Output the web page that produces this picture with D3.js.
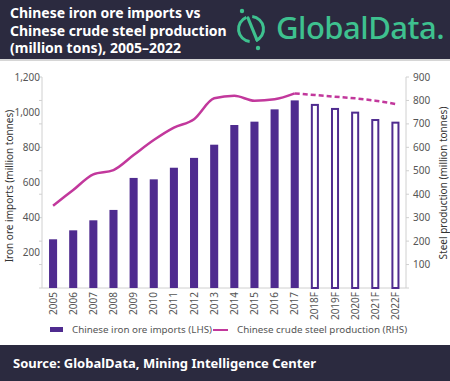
<!DOCTYPE html>
<html><head><meta charset="utf-8">
<script src="https://cdn.jsdelivr.net/npm/d3@7"></script>
<style>body{margin:0;background:#fff}svg{display:block}</style>
</head><body>
<script>
const years = ["2005","2006","2007","2008","2009","2010","2011","2012","2013","2014","2015","2016","2017","2018F","2019F","2020F","2021F","2022F"];
const ironOreImports = [277,328,385,444,626,618,684,740,815,927,946,1016,1067,1047,1024,1003,961,946];
const steelProduction = [351,418,485,503,567,631,684,720,809,820,799,805,830,823,816,809,799,785];
const forecastFlags = [0,0,0,0,0,0,0,0,0,0,0,0,0,1,1,1,1,1];
const leftTicks = [0,200,400,600,800,1000,1200];
const rightTicks = [100,200,300,400,500,600,700,800,900];

const W=450,H=381;
const svg=d3.select("body").append("svg").attr("width",W).attr("height",H);
const font="'Noto Sans', sans-serif";
const purple="#4f2b8f", magenta="#c2389c", grey="#555", axisGrey="#d0d0d0";

// header
svg.append("rect").attr("x",0).attr("y",0).attr("width",W).attr("height",59).attr("fill","#2b2a3f");
svg.append("rect").attr("x",0).attr("y",59).attr("width",W).attr("height",2).attr("fill","#d6d6d6");
const title=["Chinese iron ore imports vs","Chinese crude steel production","(million tons), 2005–2022"];
svg.append("g").selectAll("text").data(title).join("text")
  .attr("x",10).attr("y",(d,i)=>18+i*17.5).attr("fill","#fff")
  .attr("font-family",font).attr("font-weight",700).attr("font-size",14).text(d=>d);
// logo
const green="#3ec18f";
const lg=svg.append("g").attr("transform","translate(251,29)");
const arc=d3.arc().innerRadius(11).outerRadius(14);
lg.append("path").attr("d",arc({startAngle:0.1,endAngle:2.75})).attr("fill",green);
lg.append("path").attr("d",arc({startAngle:3.25,endAngle:5.9})).attr("fill",green);
lg.append("line").attr("x1",-3).attr("y1",-11).attr("x2",6).attr("y2",11).attr("stroke",green).attr("stroke-width",3.2).attr("stroke-linecap","round");
lg.append("circle").attr("cx",-9).attr("cy",-18).attr("r",2.2).attr("fill",green);
lg.append("circle").attr("cx",7).attr("cy",19).attr("r",2.2).attr("fill",green);
svg.append("text").attr("x",276).attr("y",39).attr("fill",green).attr("font-family",font)
  .attr("font-weight",500).attr("font-size",31).attr("letter-spacing",-0.5).text("GlobalData.");

// footer
svg.append("rect").attr("x",0).attr("y",345).attr("width",W).attr("height",36).attr("fill","#2b2a3f");
svg.append("text").attr("x",13).attr("y",368).attr("fill","#fff").attr("font-family",font)
  .attr("font-weight",700).attr("font-size",13).text("Source: GlobalData, Mining Intelligence Center");

// scales
const x=d3.scaleBand().domain(years).range([43,405.5]).paddingInner(0.6).paddingOuter(0.3);
const yL=d3.scaleLinear().domain([0,1200]).range([288,77]);
const yR=d3.scaleLinear().domain([0,900]).range([288,77]);

// axes
const gL=svg.append("g").attr("transform","translate(42,0)");
gL.append("line").attr("y1",yL(0)).attr("y2",yL(1200)).attr("stroke",axisGrey);
gL.selectAll(".tk").data(d3.range(0,901,100)).join("line").attr("x1",-3).attr("x2",0)
  .attr("y1",d=>yR(d)).attr("y2",d=>yR(d)).attr("stroke",axisGrey);
gL.selectAll("text").data(leftTicks.filter(d=>d>0)).join("text").attr("x",-2).attr("y",d=>yL(d)).attr("dy","0.35em")
  .attr("text-anchor","end").attr("font-family",font).attr("font-size",10).attr("fill",grey).text(d3.format(","));
const gR=svg.append("g").attr("transform","translate(406,0)");
gR.append("line").attr("y1",yR(0)).attr("y2",yR(900)).attr("stroke",axisGrey);
gR.selectAll(".tk").data(d3.range(0,901,100)).join("line").attr("x1",0).attr("x2",3)
  .attr("y1",d=>yR(d)).attr("y2",d=>yR(d)).attr("stroke",axisGrey);
gR.selectAll("text").data(rightTicks).join("text").attr("x",7).attr("y",d=>yR(d)).attr("dy","0.35em")
  .attr("font-family",font).attr("font-size",10).attr("fill",grey).text(d=>d);
svg.append("line").attr("x1",42).attr("x2",406).attr("y1",288).attr("y2",288).attr("stroke",axisGrey);

svg.append("text").attr("transform","translate(13,186) rotate(-90)").attr("text-anchor","middle")
  .attr("font-family",font).attr("font-size",10).attr("fill","#333").text("Iron ore imports (million tonnes)");
svg.append("text").attr("transform","translate(446.5,183) rotate(-90)").attr("text-anchor","middle")
  .attr("font-family",font).attr("font-size",10).attr("fill","#333").text("Steel production (million tonnes)");

// x labels
svg.append("g").selectAll("text").data(years).join("text")
  .attr("transform",d=>`translate(${x(d)+x.bandwidth()/2+3.5},292) rotate(-90)`)
  .attr("text-anchor","end").attr("font-family",font).attr("font-size",10).attr("fill",grey).text(d=>d);

// bars
const data=years.map((y,i)=>({y,v:ironOreImports[i],s:steelProduction[i],f:forecastFlags[i]}));
svg.append("g").selectAll("rect").data(data).join("rect")
  .attr("x",d=>d.f?x(d.y)+1:x(d.y)).attr("width",d=>d.f?x.bandwidth()-2:x.bandwidth())
  .attr("y",d=>d.f?yL(d.v)+1:yL(d.v)).attr("height",d=>d.f?288-yL(d.v)-1:288-yL(d.v))
  .attr("fill",d=>d.f?"#fff":purple).attr("stroke",d=>d.f?purple:"none").attr("stroke-width",2);

// line
const line=d3.line().x(d=>x(d.y)+x.bandwidth()/2).y(d=>yR(d.s)).curve(d3.curveMonotoneX);
svg.append("path").attr("d",line(data.slice(0,13))).attr("fill","none").attr("stroke",magenta).attr("stroke-width",2.5);
svg.append("path").attr("d",line(data.slice(12))).attr("fill","none").attr("stroke",magenta).attr("stroke-width",2.5).attr("stroke-dasharray","5,3");

// legend
svg.append("rect").attr("x",50).attr("y",327).attr("width",13).attr("height",5).attr("fill",purple);
svg.append("text").attr("x",72).attr("y",330).attr("dy","0.35em").attr("font-family",font).attr("font-size",9.8).attr("fill",grey).text("Chinese iron ore imports (LHS)");
svg.append("line").attr("x1",213).attr("x2",228).attr("y1",330).attr("y2",330).attr("stroke",magenta).attr("stroke-width",2);
svg.append("text").attr("x",237).attr("y",330).attr("dy","0.35em").attr("font-family",font).attr("font-size",9.8).attr("fill",grey).text("Chinese crude steel production (RHS)");
</script>
</body></html>
